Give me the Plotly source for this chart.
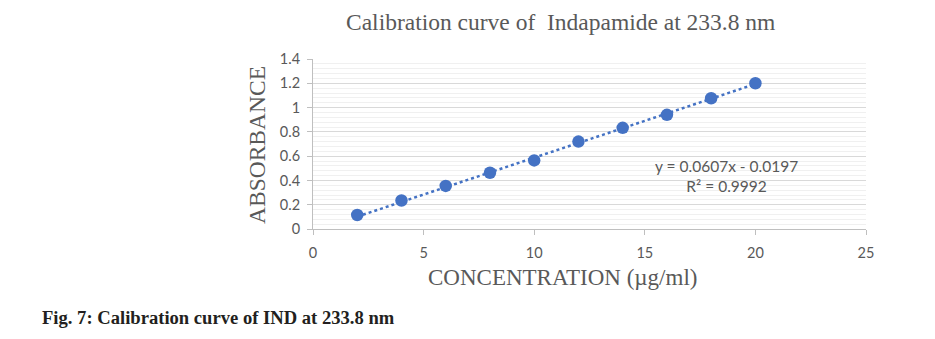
import plotly.graph_objects as go

concentration = [2, 4, 6, 8, 10, 12, 14, 16, 18, 20]
absorbance = [0.115, 0.235, 0.355, 0.463, 0.565, 0.72, 0.833, 0.94, 1.077, 1.2]
slope = 0.0607
intercept = -0.0197
r_squared = 0.9992
x_ticks = [0, 5, 10, 15, 20, 25]
y_ticks = [0, 0.2, 0.4, 0.6, 0.8, 1, 1.2, 1.4]
y_tick_text = ["0", "0.2", "0.4", "0.6", "0.8", "1", "1.2", "1.4"]

blue = "#4472C4"
gray_text = "#595959"
serif = "Liberation Serif, Times New Roman, serif"
sans = "Lato, Carlito, Calibri, sans-serif"

W, H = 935, 339
L, R, T, B = 313, 69, 59, 110
plot_w = W - L - R
plot_h = H - T - B


def px_x(p):
    return (p - L) / plot_w


def px_y(p):
    return (H - B - p) / plot_h


trend_x = [concentration[0], concentration[-1]]
trend_y = [slope * v + intercept for v in trend_x]

fig = go.Figure()
fig.add_trace(go.Scatter(x=trend_x, y=trend_y, mode="lines",
                         line=dict(color=blue, width=2.5, dash="dot"),
                         hoverinfo="skip", showlegend=False))
fig.add_trace(go.Scatter(x=concentration, y=absorbance, mode="markers",
                         marker=dict(color=blue, size=12.5),
                         showlegend=False))

fig.update_layout(
    width=W, height=H,
    margin=dict(l=L, r=R, t=T, b=B),
    paper_bgcolor="white", plot_bgcolor="white",
    xaxis=dict(range=[0, 25], tickvals=x_ticks, showgrid=False,
               showline=True, linecolor="#bfbfbf", linewidth=1,
               ticks="outside", ticklen=5, tickcolor="#bfbfbf",
               ticklabelstandoff=6,
               tickfont=dict(family=sans, size=14.5, color=gray_text),
               zeroline=False),
    yaxis=dict(range=[0, 1.4], tickvals=y_ticks, ticktext=y_tick_text,
               showgrid=True, gridcolor="#d9d9d9", gridwidth=1,
               minor=dict(dtick=0.04, showgrid=True, gridcolor="#f0f0f0", gridwidth=1),
               showline=True, linecolor="#bfbfbf", linewidth=1,
               ticks="outside", ticklen=5, tickcolor="#bfbfbf",
               ticklabelstandoff=4,
               tickfont=dict(family=sans, size=14.5, color=gray_text),
               zeroline=False),
)

# chart title
fig.add_annotation(x=px_x(560), y=px_y(22), xref="paper", yref="paper",
                   text="Calibration curve of  Indapamide at 233.8 nm",
                   showarrow=False, xanchor="center", yanchor="middle",
                   font=dict(family=serif, size=23.5, color=gray_text))
# y axis title
fig.add_annotation(x=px_x(257), y=px_y(145), xref="paper", yref="paper",
                   text="ABSORBANCE", textangle=-90,
                   showarrow=False, xanchor="center", yanchor="middle",
                   font=dict(family=serif, size=23.5, color=gray_text))
# x axis title
fig.add_annotation(x=px_x(562), y=px_y(277), xref="paper", yref="paper",
                   text="CONCENTRATION (µg/ml)",
                   showarrow=False, xanchor="center", yanchor="middle",
                   font=dict(family=serif, size=23, color=gray_text))
# trendline equation
fig.add_annotation(x=18.7, y=0.434, xref="x", yref="y",
                   text=f"y = {slope}x - {abs(intercept)}<br>R² = {r_squared}",
                   showarrow=False, align="center",
                   font=dict(family=sans, size=15.5, color=gray_text))
# figure caption
fig.add_annotation(x=px_x(40), y=px_y(317), xref="paper", yref="paper",
                   text="<b>Fig. 7: Calibration curve of IND at 233.8 nm</b>",
                   showarrow=False, xanchor="left", yanchor="middle",
                   font=dict(family=serif, size=18.6, color="#231f20"))

fig.write_html("out.html")
